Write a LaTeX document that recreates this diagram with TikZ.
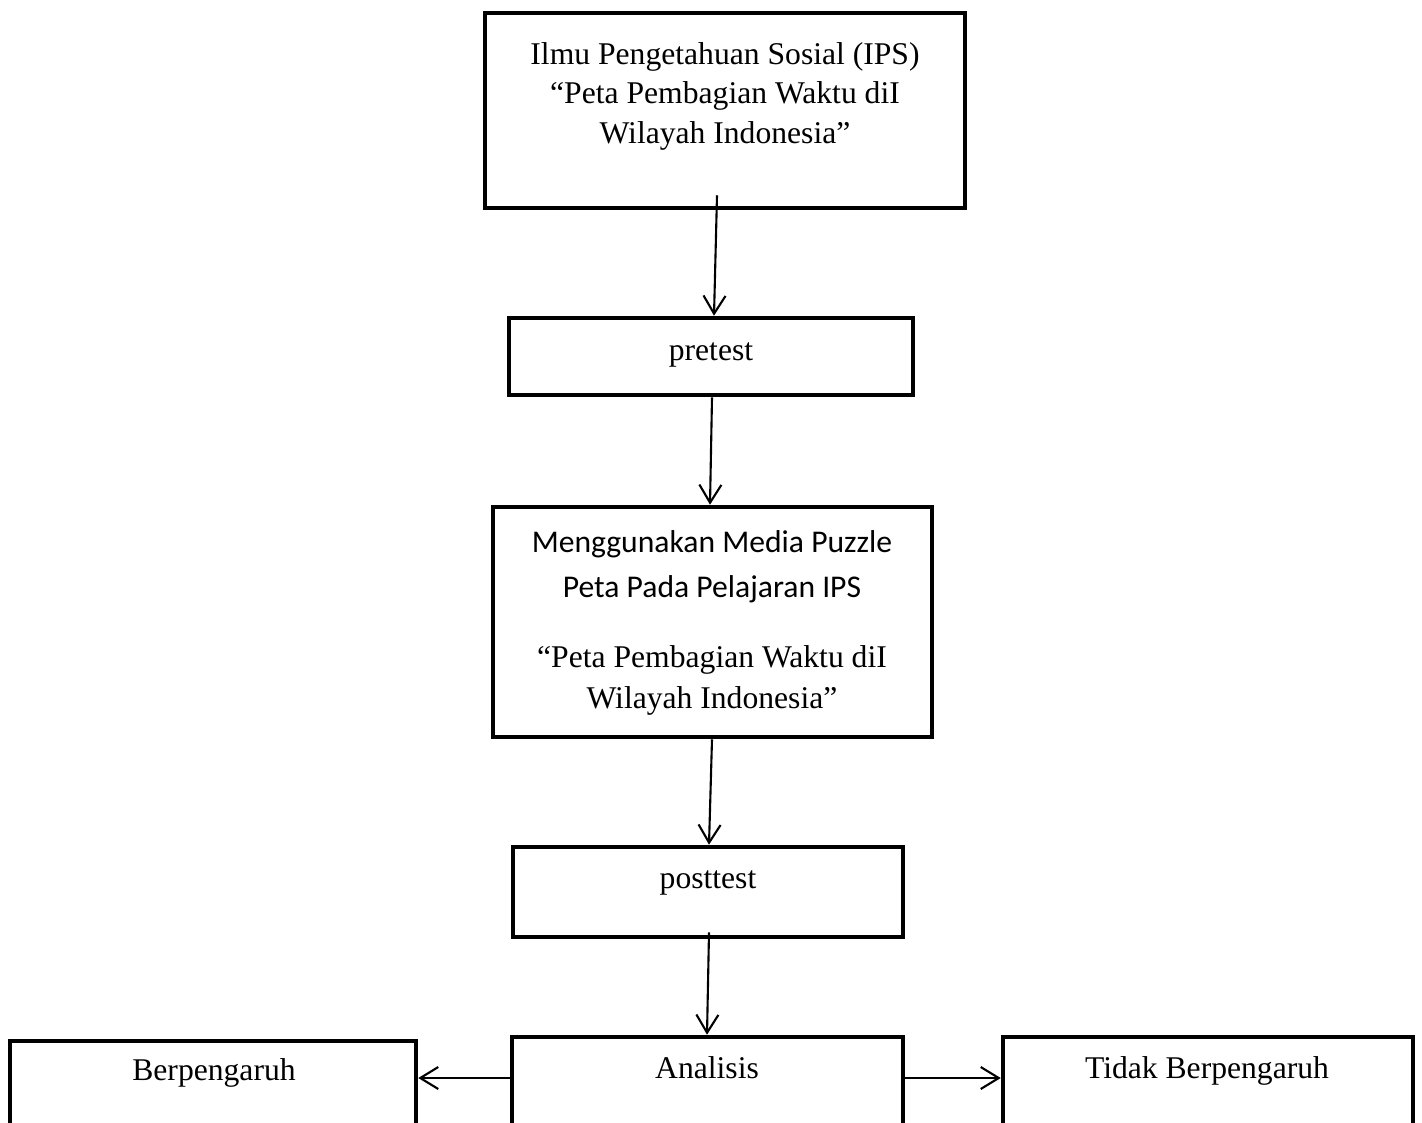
\documentclass[tikz,border=0pt]{standalone}
\usepackage{fontspec}
\setmainfont{Liberation Serif}
\newfontfamily\calibri{Carlito}
\usetikzlibrary{arrows.meta}
\begin{document}
\begin{tikzpicture}[x=0.02cm,y=-0.02cm,>={Straight Barb[length=3.6mm,width=4.4mm]},
	kotak/.style={draw,line width=2.6pt,inner sep=0pt},
	panah/.style={->,line width=1.2pt},
	teks/.style={anchor=base,align=center,inner sep=0pt,font=\fontsize{18}{22.2}\selectfont}]
	\useasboundingbox (0,0) rectangle (1422,1122);
	\clip (0,0) rectangle (1422,1122);
	% kotak
	\node[kotak,minimum width=9.6cm,minimum height=3.9cm] (ips) at (725,110.5) {};
	\node[kotak,minimum width=8.08cm,minimum height=1.54cm] (pre) at (711,356.5) {};
	\node[kotak,minimum width=8.78cm,minimum height=4.6cm] (media) at (712.5,622) {};
	\node[kotak,minimum width=7.8cm,minimum height=1.8cm] (post) at (708,892) {};
	\node[kotak,minimum width=8.12cm,minimum height=2.4cm] (bpg) at (213,1101) {};
	\node[kotak,minimum width=7.82cm,minimum height=2.4cm] (ana) at (707.5,1097) {};
	\node[kotak,minimum width=8.2cm,minimum height=2.4cm] (tdk) at (1208,1097) {};
	% teks (anchor base = baris terakhir)
	\node[teks] (tips) at (725,143) {Ilmu Pengetahuan Sosial (IPS)\\``Peta Pembagian Waktu diI\\Wilayah Indonesia''};
	\node[teks] (tpre) at (711,360) {pretest};
	\node[teks,font=\calibri\fontsize{18}{25.6}\selectfont] (tmedia) at (712,597) {Menggunakan Media Puzzle\\Peta Pada Pelajaran IPS};
	\node[teks,font=\fontsize{18}{23.3}\selectfont] (tpeta) at (712,708) {``Peta Pembagian Waktu diI\\Wilayah Indonesia''};
	\node[teks] (tpost) at (708,888) {posttest};
	\node[teks] (tbpg) at (214,1080) {Berpengaruh};
	\node[teks] (tana) at (707,1078) {Analisis};
	\node[teks] (ttdk) at (1207,1078) {Tidak Berpengaruh};
	% panah
	\draw[panah] ([xshift=-0.16cm,yshift=0.3cm]ips.south) -- ([xshift=0.06cm]pre.north);
	\draw[panah] ([xshift=0.02cm]pre.south) -- ([xshift=-0.05cm]media.north);
	\draw[panah] ([xshift=-0.01cm]media.south) -- ([xshift=0.02cm]post.north);
	\draw[panah] ([xshift=0.02cm,yshift=0.14cm]post.south) -- ([xshift=-0.01cm]ana.north);
	\coordinate (kiri) at ([yshift=0.38cm]ana.west);
	\coordinate (kanan) at ([yshift=0.38cm]ana.east);
	\draw[panah] (kiri) -- (kiri -| bpg.east);
	\draw[panah] (kanan) -- (kanan -| tdk.west);
\end{tikzpicture}
\end{document}
